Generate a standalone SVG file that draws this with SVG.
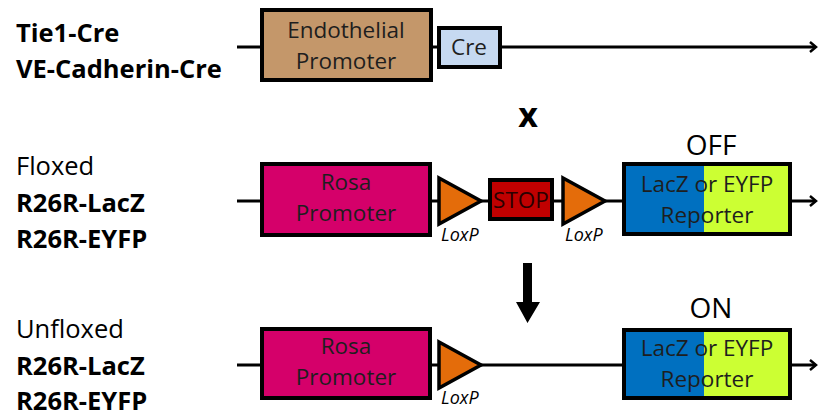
<svg xmlns="http://www.w3.org/2000/svg" width="819" height="417" viewBox="0 0 819 417">
<style>
text{font-family:"Open Sans","Liberation Sans",sans-serif;}
.lbl{font-size:25.5px;fill:#000;}
.b{font-weight:bold;}
.box{stroke:#000;stroke-width:4;}
.bt{font-size:22.5px;fill:#1e1e1e;text-anchor:middle;}
.lox{font-size:18px;font-style:italic;fill:#000;}
.tri{fill:#E46C0A;stroke:#000;stroke-width:3.5;stroke-linejoin:miter;}
.ln{stroke:#000;stroke-width:3;fill:none;}
.ah{stroke:#000;stroke-width:2.5;fill:none;}
.st{font-size:28px;fill:#000;text-anchor:middle;}
</style>
<rect width="819" height="417" fill="#fff"/>
<g id="connectors">
<line class="ln" x1="237" y1="47" x2="815" y2="47"/>
<path class="ah" d="M810,42 L816,47 L810,52"/>
<line class="ln" x1="237" y1="201" x2="815" y2="201"/>
<path class="ah" d="M810,196 L816,201 L810,206"/>
<line class="ln" x1="237" y1="365" x2="815" y2="365"/>
<path class="ah" d="M810,360 L816,365 L810,370"/>
</g>
<g id="labels-left">
<text class="lbl b" x="16" y="42">Tie1-Cre</text>
<text class="lbl b" x="16" y="78">VE-Cadherin-Cre</text>
<text class="lbl" x="16" y="175">Floxed</text>
<text class="lbl b" x="16" y="212">R26R-LacZ</text>
<text class="lbl b" x="16" y="248">R26R-EYFP</text>
<text class="lbl" x="16" y="338">Unfloxed</text>
<text class="lbl b" x="16" y="375">R26R-LacZ</text>
<text class="lbl b" x="16" y="410">R26R-EYFP</text>
</g>
<g id="endothelial-promoter">
<rect class="box" x="262" y="10" width="169" height="70" fill="#C4976A"/>
<text class="bt" x="346" y="38">Endothelial</text>
<text class="bt" x="346" y="69">Promoter</text>
</g>
<g id="cre">
<rect class="box" x="439" y="28" width="61" height="39" fill="#C6D9F1"/>
<text class="bt" x="469" y="55">Cre</text>
</g>
<g id="cross">
<text x="528" y="127" font-size="34" font-weight="bold" text-anchor="middle">x</text>
</g>
<g id="rosa-floxed">
<rect class="box" x="262" y="164" width="168" height="71" fill="#D5006A"/>
<text class="bt" x="346" y="190">Rosa</text>
<text class="bt" x="346" y="221">Promoter</text>
</g>
<g id="loxp1-floxed">
<polygon class="tri" points="439,178 481,201 439,224"/>
<text class="lox" x="441" y="241">LoxP</text>
</g>
<g id="stop">
<rect class="box" x="490" y="180" width="62" height="39" fill="#C00000"/>
<text x="521" y="208" font-size="22.5" fill="#2a0000" text-anchor="middle">STOP</text>
</g>
<g id="loxp2-floxed">
<polygon class="tri" points="563,178 605,201 563,224"/>
<text class="lox" x="565" y="241">LoxP</text>
</g>
<g id="reporter-off">
<rect x="624" y="164" width="80" height="70" fill="#0070C0"/>
<rect x="704" y="164" width="86" height="70" fill="#CCFF33"/>
<rect class="box" x="624" y="164" width="166" height="70" fill="none"/>
<text class="bt" x="707" y="192">LacZ or EYFP</text>
<text class="bt" x="707" y="223">Reporter</text>
<text class="st" x="711" y="155">OFF</text>
</g>
<g id="down-arrow">
<polygon points="523,263 532,263 532,302 540,302 527.5,323 516,302 523,302" fill="#000"/>
</g>
<g id="rosa-unfloxed">
<rect class="box" x="262" y="329" width="168" height="69" fill="#D5006A"/>
<text class="bt" x="346" y="354">Rosa</text>
<text class="bt" x="346" y="385">Promoter</text>
</g>
<g id="loxp-unfloxed">
<polygon class="tri" points="439,342 481,365 439,388"/>
<text class="lox" x="441" y="404">LoxP</text>
</g>
<g id="reporter-on">
<rect x="624" y="330" width="80" height="68" fill="#0070C0"/>
<rect x="704" y="330" width="86" height="68" fill="#CCFF33"/>
<rect class="box" x="624" y="330" width="166" height="68" fill="none"/>
<text class="bt" x="707" y="356">LacZ or EYFP</text>
<text class="bt" x="707" y="387">Reporter</text>
<text class="st" x="711" y="318">ON</text>
</g>
</svg>
